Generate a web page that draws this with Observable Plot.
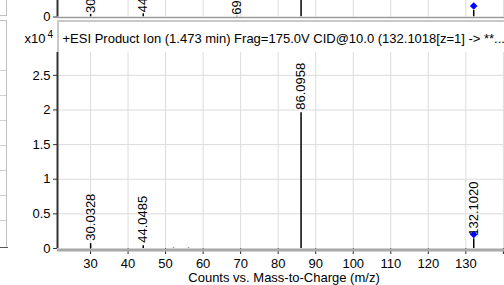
<!DOCTYPE html>
<html><head><meta charset="utf-8">
<script src="https://cdn.jsdelivr.net/npm/d3@7"></script>
<script src="https://cdn.jsdelivr.net/npm/@observablehq/plot@0.6"></script>
<style>
body{margin:0;background:#fff;font-family:"Liberation Sans",Arial,sans-serif;}
#wrap{position:relative;width:504px;height:285px;overflow:hidden;background:#fff;}
#upper,#main{position:absolute;left:0;top:0;}
.deco{position:absolute;}
</style></head><body>
<div id="wrap">
  <div id="upper"></div>
  <div class="deco" style="left:57px;top:20px;width:447px;height:30px;border-top:2px solid #c8c8c8;border-left:2px solid #c8c8c8;background:#fff;"></div>
  <div id="main"></div>
</div>
<script>
// ---- data (intensities in x10^4 counts) ----
const peakMz    = [30.0328, 44.0485, 52.1, 56.1, 86.0958, 132.1020];
const peakInt   = [0.07, 0.04, 0.006, 0.006, 1.96, 0.14];
const peakLabel = ["30.0328", "44.0485", "", "", "86.0958", "132.1020"];
const precursorMz = [132.1020];
const precursorInt = [0.14];

// upper (partially visible) spectrum, arbitrary units of its own axis
const upperMz    = [30.03, 44.05, 69.0, 86.10, 132.10];
const upperInt   = [0.15, 0.2, 0.05, 5, 0.4];
const upperLabel = ["30", "44", "69", "", ""];

const xTicks = [30, 40, 50, 60, 70, 80, 90, 100, 110, 120, 130, 140];
const yTicks = [0, 0.5, 1, 1.5, 2, 2.5];
const titleText = "+ESI Product Ion (1.473 min) Frag=175.0V CID@10.0 (132.1018[z=1] -> **...";
const xLabel = "Counts vs. Mass-to-Charge (m/z)";
const yExp = ["x10", "4"];

const xDomain = [21.2, 140.3];
const font = "'Liberation Sans', Arial, sans-serif";

const peaks = peakMz.map((m, i) => ({mz: m, int: peakInt[i], label: peakLabel[i]}));
const labeled = peaks.filter(d => d.label);
const prec = precursorMz.map((m, i) => ({mz: m, int: precursorInt[i]}));
const upeaks = upperMz.map((m, i) => ({mz: m, int: upperInt[i], label: upperLabel[i]}));

// ---- upper strip ----
const upper = Plot.plot({
  width: 504, height: 24,
  marginLeft: 57, marginRight: 0, marginTop: 0, marginBottom: 7.5,
  x: {domain: xDomain},
  y: {domain: [0, 1]},
  style: {fontFamily: font, fontSize: "13px", color: "#000", background: "transparent"},
  marks: [
    Plot.gridX(xTicks, {stroke: "#dcdcdc", strokeOpacity: 1}),
    Plot.ruleY([0], {stroke: "#9a9a9a", strokeWidth: 1.5, dy: 0.5}),
    Plot.ruleX(upeaks, {x: "mz", y1: 0, y2: "int", stroke: "#000", strokeWidth: 1.5, clip: true}),
    Plot.text(upeaks.filter(d => d.label), {x: "mz", y: "int", text: "label", rotate: -90, textAnchor: "start", dy: -1.5, fill: "#000"}),
    Plot.dot([upeaks[4]], {x: "mz", y: "int", symbol: "diamond2", r: 3.4, fill: "#0000ff", stroke: "none", dy: -4.5}),
    Plot.ruleX([xDomain[0]], {stroke: "#333", strokeWidth: 2, y1: 0, y2: 1}),
    Plot.axisY([0], {tickSize: 4, tickPadding: 3, tickFormat: d => String(d), label: null, stroke: "#333"}),
    Plot.axisX([], {label: null})
  ]
});
document.getElementById("upper").appendChild(upper);

// ---- main chart ----
const main = Plot.plot({
  width: 504, height: 285,
  marginLeft: 57, marginRight: 0, marginTop: 52, marginBottom: 37,
  x: {domain: xDomain},
  y: {domain: [0, 2.83]},
  style: {fontFamily: font, fontSize: "13px", color: "#000", background: "transparent"},
  marks: [
    Plot.gridX(xTicks, {stroke: "#dcdcdc", strokeOpacity: 1}),
    Plot.gridY(yTicks.filter(d => d > 0), {stroke: "#dcdcdc", strokeOpacity: 1}),
    Plot.axisX(xTicks, {tickSize: 6, tickPadding: 4, tickFormat: d => d === 140 ? "" : String(d), label: null, stroke: "#222"}),
    Plot.axisY(yTicks, {tickSize: 4, tickPadding: 3, tickFormat: d => String(d), label: null, stroke: "#333"}),
    Plot.ruleY([0], {stroke: "#a8a8a8", strokeWidth: 3, dy: 1.5}),
    Plot.ruleX(peaks, {x: "mz", y1: 0, y2: "int", stroke: "#000", strokeWidth: 1.5}),
    Plot.text(labeled, {x: "mz", y: "int", text: "label", rotate: -90, textAnchor: "start", dy: -3, fill: "#000"}),
    Plot.dot(prec, {x: "mz", y: "int", symbol: "diamond2", r: 3.4, fill: "#0000ff", stroke: "none", dy: -4.3}),
    Plot.ruleX([xDomain[0]], {stroke: "#333", strokeWidth: 2, y1: 0, y2: 2.83}),
    Plot.text([titleText], {frameAnchor: "top-left", dx: 5, dy: -19, lineAnchor: "top", textAnchor: "start", fontSize: 13}),
    Plot.text([yExp[0]], {frameAnchor: "top-left", dx: -12, dy: -19, lineAnchor: "top", textAnchor: "end", fontSize: 13}),
    Plot.text([yExp[1]], {frameAnchor: "top-left", dx: -10, dy: -22, lineAnchor: "top", textAnchor: "start", fontSize: 10}),
    Plot.text([xLabel], {frameAnchor: "bottom", dx: 3, dy: 24, lineAnchor: "top", fontSize: 13})
  ]
});
document.getElementById("main").appendChild(main);

// ---- left window-edge decoration ----
const wrap = document.getElementById("wrap");
function deco(style){ const d = document.createElement("div"); d.className = "deco"; d.setAttribute("style", style); wrap.appendChild(d); }
deco("left:0;top:0;width:6px;height:15px;border-right:1px solid #c0c0c0;border-bottom:1px solid #c0c0c0;background:#fff;");
deco("left:0;top:20px;width:6px;height:227px;border-top:1px solid #c0c0c0;border-right:1px solid #c0c0c0;");
for (let y = 70; y <= 220; y += 25) deco(`left:0;top:${y}px;width:6px;height:1px;background:#cfcfcf;`);
deco("left:0;top:247px;width:8px;height:1px;background:#555;");
</script>
</body></html>
